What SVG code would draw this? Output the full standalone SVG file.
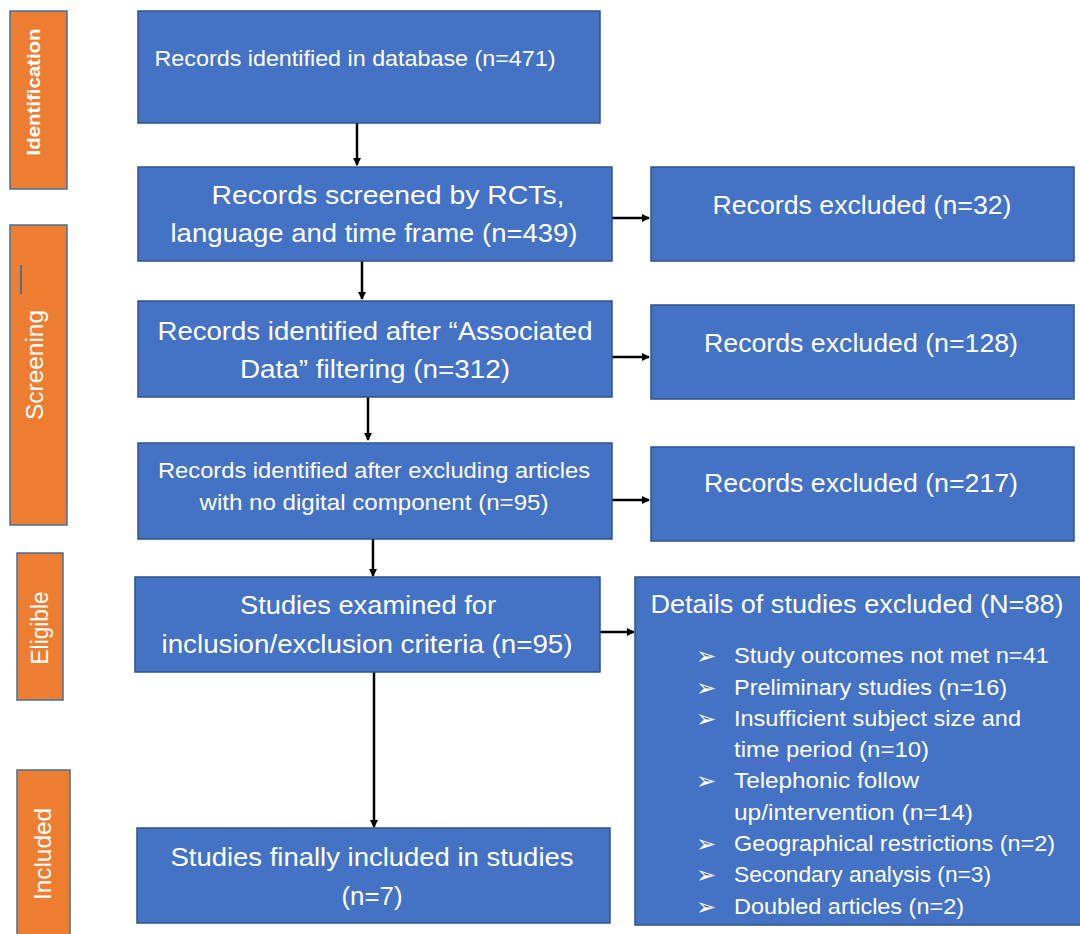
<svg xmlns="http://www.w3.org/2000/svg" width="1080" height="934" viewBox="0 0 1080 934">
<style>
.box{fill:#4472C4;stroke:#2F528F;stroke-width:1.5}
.bar{fill:#ED7D31;stroke:#41719C;stroke-width:1.5}
.t{font-family:"Liberation Sans",Arial,sans-serif;fill:#FFFFFF;text-anchor:middle}
.l{font-family:"Liberation Sans",Arial,sans-serif;fill:#FFFFFF;font-size:22px}
.b{font-family:"DejaVu Sans",sans-serif;fill:#FFFFFF;font-size:24px}
.c{stroke:#000;stroke-width:2.5;fill:none;marker-end:url(#ah)}
</style>
<defs>
<marker id="ah" markerWidth="10" markerHeight="10" refX="7" refY="5" orient="auto" markerUnits="userSpaceOnUse">
<path d="M0,1 L8,5 L0,9 Z" fill="#000"/>
</marker>
</defs>
<rect width="1080" height="934" fill="#FFFFFF"/>

<g id="bar-identification">
<rect class="bar" x="10" y="11" width="57" height="178"/>
<text class="t" font-size="19" font-weight="bold" textLength="127" lengthAdjust="spacingAndGlyphs" transform="translate(40,92) rotate(-90)">Identification</text>
</g>
<g id="bar-screening">
<rect class="bar" x="10" y="225" width="57" height="300"/>
<line x1="21" y1="265" x2="21" y2="294" stroke="#41719C" stroke-width="2"/>
<text class="t" font-size="23" textLength="110" lengthAdjust="spacingAndGlyphs" transform="translate(43,365) rotate(-90)">Screening</text>
</g>
<g id="bar-eligible">
<rect class="bar" x="17" y="553" width="46" height="147"/>
<text class="t" font-size="23" textLength="73" lengthAdjust="spacingAndGlyphs" transform="translate(48,628) rotate(-90)">Eligible</text>
</g>
<g id="bar-included">
<rect class="bar" x="17" y="770" width="53" height="170"/>
<text class="t" font-size="24" textLength="92" lengthAdjust="spacingAndGlyphs" transform="translate(51,854) rotate(-90)">Included</text>
</g>

<g id="connectors">
<line class="c" x1="357" y1="123" x2="357" y2="165"/>
<line class="c" x1="362" y1="261" x2="362" y2="299"/>
<line class="c" x1="368" y1="397" x2="368" y2="440"/>
<line class="c" x1="373" y1="539" x2="373" y2="576"/>
<line class="c" x1="374" y1="672" x2="374" y2="827"/>
<line class="c" x1="612" y1="218" x2="649" y2="218"/>
<line class="c" x1="612" y1="357" x2="649" y2="357"/>
<line class="c" x1="612" y1="500" x2="649" y2="500"/>
<line class="c" x1="600" y1="632" x2="634" y2="632"/>
</g>

<g id="n1">
<rect class="box" x="138" y="11" width="462" height="112"/>
<text class="t" font-size="22" x="355" y="66" textLength="401" lengthAdjust="spacingAndGlyphs">Records identified in database (n=471)</text>
</g>
<g id="n2">
<rect class="box" x="138" y="167" width="474" height="94"/>
<text class="t" font-size="26" x="388" y="204" textLength="353" lengthAdjust="spacingAndGlyphs">Records screened by RCTs,</text>
<text class="t" font-size="26" x="374" y="242" textLength="407" lengthAdjust="spacingAndGlyphs">language and time frame (n=439)</text>
</g>
<g id="n3">
<rect class="box" x="138" y="301" width="474" height="96"/>
<text class="t" font-size="26" x="375" y="340" textLength="435" lengthAdjust="spacingAndGlyphs">Records identified after “Associated</text>
<text class="t" font-size="26" x="375" y="378" textLength="270" lengthAdjust="spacingAndGlyphs">Data” filtering (n=312)</text>
</g>
<g id="n4">
<rect class="box" x="138" y="443" width="474" height="96"/>
<text class="t" font-size="22" x="374" y="478" textLength="432" lengthAdjust="spacingAndGlyphs">Records identified after excluding articles</text>
<text class="t" font-size="22" x="374" y="510" textLength="349" lengthAdjust="spacingAndGlyphs">with no digital component (n=95)</text>
</g>
<g id="n5">
<rect class="box" x="135" y="577" width="465" height="95"/>
<text class="t" font-size="26" x="368" y="614" textLength="256" lengthAdjust="spacingAndGlyphs">Studies examined for</text>
<text class="t" font-size="26" x="367" y="653" textLength="411" lengthAdjust="spacingAndGlyphs">inclusion/exclusion criteria (n=95)</text>
</g>
<g id="n6">
<rect class="box" x="137" y="828" width="473" height="95"/>
<text class="t" font-size="26" x="372" y="866" textLength="403" lengthAdjust="spacingAndGlyphs">Studies finally included in studies</text>
<text class="t" font-size="26" x="372" y="905" textLength="61" lengthAdjust="spacingAndGlyphs">(n=7)</text>
</g>
<g id="r1">
<rect class="box" x="651" y="167" width="423" height="94"/>
<text class="t" font-size="26" x="862" y="214" textLength="299" lengthAdjust="spacingAndGlyphs">Records excluded (n=32)</text>
</g>
<g id="r2">
<rect class="box" x="651" y="305" width="423" height="94"/>
<text class="t" font-size="26" x="861" y="352" textLength="314" lengthAdjust="spacingAndGlyphs">Records excluded (n=128)</text>
</g>
<g id="r3">
<rect class="box" x="651" y="447" width="423" height="94"/>
<text class="t" font-size="26" x="861" y="492" textLength="314" lengthAdjust="spacingAndGlyphs">Records excluded (n=217)</text>
</g>
<g id="details">
<rect class="box" x="635" y="577" width="450" height="348"/>
<text class="t" font-size="26" x="857" y="613" textLength="413" lengthAdjust="spacingAndGlyphs">Details of studies excluded (N=88)</text>
<text class="b" x="696" y="664">➢</text>
<text class="l" x="734" y="663" textLength="315" lengthAdjust="spacingAndGlyphs">Study outcomes not met n=41</text>
<text class="b" x="696" y="696">➢</text>
<text class="l" x="734" y="695" textLength="273" lengthAdjust="spacingAndGlyphs">Preliminary studies (n=16)</text>
<text class="b" x="696" y="727">➢</text>
<text class="l" x="734" y="726" textLength="287" lengthAdjust="spacingAndGlyphs">Insufficient subject size and</text>
<text class="l" x="734" y="757" textLength="195" lengthAdjust="spacingAndGlyphs">time period (n=10)</text>
<line x1="735" y1="762" x2="856" y2="762" stroke="#7B5BD6" stroke-width="1.5" stroke-dasharray="2,2"/>
<text class="b" x="696" y="789">➢</text>
<text class="l" x="734" y="788" textLength="185" lengthAdjust="spacingAndGlyphs">Telephonic follow</text>
<text class="l" x="734" y="820" textLength="239" lengthAdjust="spacingAndGlyphs">up/intervention (n=14)</text>
<text class="b" x="696" y="852">➢</text>
<text class="l" x="734" y="851" textLength="321" lengthAdjust="spacingAndGlyphs">Geographical restrictions (n=2)</text>
<text class="b" x="696" y="883">➢</text>
<text class="l" x="734" y="882" textLength="257" lengthAdjust="spacingAndGlyphs">Secondary analysis (n=3)</text>
<text class="b" x="696" y="915">➢</text>
<text class="l" x="734" y="914" textLength="230" lengthAdjust="spacingAndGlyphs">Doubled articles (n=2)</text>
</g>
</svg>
